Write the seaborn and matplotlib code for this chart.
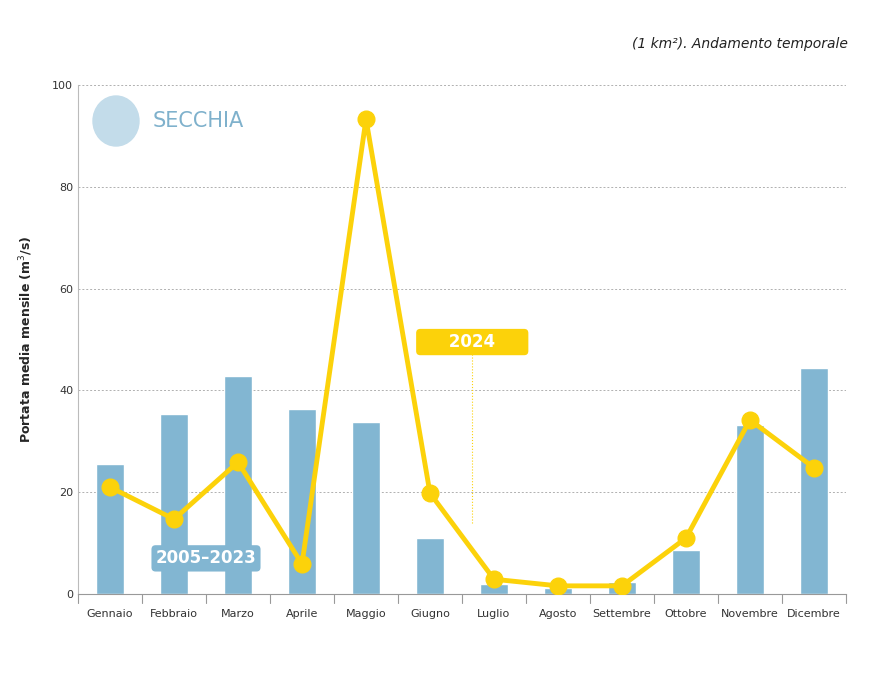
import numpy as np
import pandas as pd
import matplotlib.pyplot as plt
import seaborn as sns
from matplotlib.patches import Ellipse

mesi = ['Gennaio', 'Febbraio', 'Marzo', 'Aprile', 'Maggio', 'Giugno', 'Luglio',
        'Agosto', 'Settembre', 'Ottobre', 'Novembre', 'Dicembre']
media_2005_2023 = [25.5, 35.4, 42.8, 36.3, 33.8, 11.0, 2.0, 1.2, 2.4, 8.6, 33.2, 44.4]
anno_2024 = [21.0, 14.7, 25.9, 5.9, 93.3, 19.8, 2.9, 1.6, 1.6, 11.0, 34.2, 24.8]

df = pd.DataFrame({'mese': mesi, 'media': media_2005_2023, 'v2024': anno_2024})

sns.set_style('white')
fig = plt.figure(figsize=(8.82, 6.82), dpi=100)
ax = fig.add_axes([78 / 882, 1 - 594 / 682, (846 - 78) / 882, (594 - 85) / 682])

blu = '#82b6d2'
giallo = '#fcd20a'
sns.barplot(data=df, x='mese', y='media', color=blu, width=0.45, saturation=1, ax=ax, zorder=2)
x = np.arange(len(mesi))
ax.plot(x, df['v2024'], color=giallo, lw=3.5, marker='o', ms=12, zorder=4)

ax.set_ylim(0, 100)
ax.set_xlim(-0.5, 11.5)
ax.set_yticks(range(0, 101, 20))
ax.yaxis.grid(True, ls=(0, (2, 2)), color='#b0b0b0', lw=0.7)
for s in ['top', 'right']:
    ax.spines[s].set_visible(False)
ax.spines['left'].set_color('#bbbbbb')
ax.spines['bottom'].set_color('#999999')
ax.tick_params(axis='both', labelsize=8, colors='#333333', length=0)
ax.tick_params(axis='x', pad=11)
ax.set_xlabel('')
ax.set_ylabel('Portata media mensile (m$^3$/s)', fontsize=9, fontweight='bold', labelpad=12)
for b in np.arange(-0.5, 12, 1):
    ax.plot([b, b], [-1.8, 0], color='#999999', lw=0.8, clip_on=False)

# etichette
ax.text(1.5, 7, '2005–2023', ha='center', va='center', fontsize=12, fontweight='bold',
        color='white', zorder=5,
        bbox=dict(boxstyle='round,pad=0.25', fc=blu, ec='none'))
ax.text(5.66, 49.5, '     2024     ', ha='center', va='center', fontsize=12, fontweight='bold',
        color='white', zorder=5,
        bbox=dict(boxstyle='round,pad=0.25', fc=giallo, ec='none'))
ax.plot([5.66, 5.66], [14, 47.5], color=giallo, lw=0.8, ls=':', zorder=3)

# logo
fig.patches.append(Ellipse((116 / 882, 1 - 121 / 682), 46 / 882, 50 / 682,
                           transform=fig.transFigure, color='#c3dcea', zorder=3))
fig.text(153 / 882, 1 - 121 / 682, 'SECCHIA', fontsize=15, color='#7fb1cc', va='center')

fig.text(848 / 882, 1 - 44 / 682, '(1 km²). Andamento temporale', fontsize=10,
         style='italic', ha='right', va='center', color='#222222')

fig.savefig('out.png', dpi=100)
